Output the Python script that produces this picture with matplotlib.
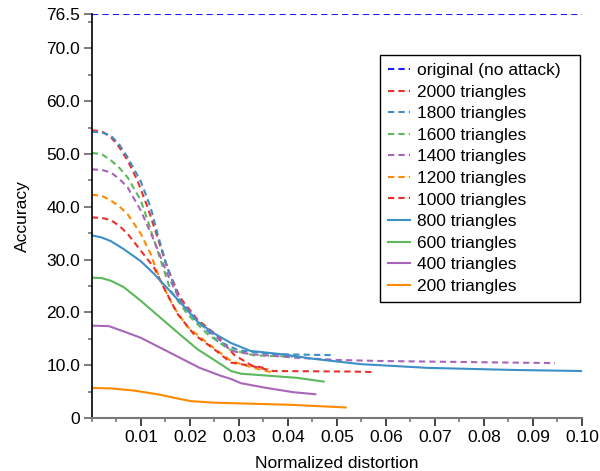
import matplotlib
matplotlib.use('Agg')
import matplotlib.pyplot as plt
from matplotlib.ticker import MultipleLocator, FixedLocator

plt.rcParams['font.family'] = ['Liberation Sans', 'DejaVu Sans']

# Accuracy vs. normalized distortion for each attack budget
original_x = [0.0, 0.10]
original_y = [76.5, 76.5]

t2000_x = [0, 0.002, 0.0039, 0.0056, 0.0073, 0.0093, 0.0114, 0.0134, 0.0154, 0.018, 0.0216, 0.0256, 0.029, 0.0325, 0.036]
t2000_y = [54.5, 54.3, 53.2, 51.3, 48.8, 45.0, 39.9, 34.2, 28.5, 22.8, 18.6, 15.6, 12.0, 10.0, 9.3]

t1800_x = [0, 0.002, 0.0039, 0.0056, 0.0073, 0.0100, 0.0120, 0.0134, 0.0154, 0.018, 0.0216, 0.0256, 0.030, 0.037, 0.0496]
t1800_y = [54.2, 54.1, 53.5, 51.8, 49.4, 44.8, 39.9, 34.9, 28.5, 22.2, 18.4, 14.6, 12.8, 12.1, 11.9]

t1600_x = [0, 0.002, 0.0039, 0.0056, 0.0073, 0.0100, 0.0114, 0.0134, 0.0161, 0.0195, 0.0236, 0.028, 0.033, 0.041]
t1600_y = [50.2, 50.0, 48.8, 47.4, 45.6, 41.2, 37.4, 31.7, 24.1, 19.7, 15.9, 13.0, 11.9, 11.6]

t1400_x = [0, 0.002, 0.0039, 0.0056, 0.0073, 0.0100, 0.0127, 0.0154, 0.018, 0.0222, 0.0256, 0.0284, 0.0324, 0.042, 0.050, 0.059, 0.0945]
t1400_y = [47.1, 47.0, 46.5, 45.3, 43.7, 39.3, 33.6, 27.3, 22.2, 17.8, 15.2, 12.7, 12.1, 11.4, 11.0, 10.8, 10.4]

t1200_x = [0, 0.002, 0.0039, 0.0056, 0.0073, 0.0100, 0.0120, 0.0140, 0.0168, 0.0195, 0.0236, 0.0284, 0.033, 0.0373]
t1200_y = [42.3, 42.1, 41.2, 40.1, 38.6, 34.9, 31.1, 26.0, 20.9, 17.3, 14.2, 10.8, 9.5, 8.5]

t1000_x = [0, 0.002, 0.0039, 0.0056, 0.0073, 0.0100, 0.0127, 0.0147, 0.0175, 0.0208, 0.025, 0.0284, 0.0324, 0.037, 0.053, 0.0575]
t1000_y = [38.0, 37.9, 37.5, 36.4, 34.9, 31.7, 28.5, 24.7, 19.7, 15.9, 13.0, 10.5, 9.9, 8.9, 8.8, 8.7]

t800_x = [0, 0.002, 0.0039, 0.0065, 0.0100, 0.0127, 0.0161, 0.0195, 0.0216, 0.025, 0.0284, 0.0324, 0.0386, 0.0453, 0.0549, 0.0685, 0.0861, 0.10]
t800_y = [34.6, 34.2, 33.5, 32.0, 29.7, 27.3, 23.9, 20.4, 18.2, 16.0, 14.2, 12.7, 12.1, 11.2, 10.2, 9.5, 9.1, 8.9]

t600_x = [0, 0.002, 0.0039, 0.0065, 0.0100, 0.0140, 0.018, 0.0216, 0.0263, 0.0284, 0.0304, 0.042, 0.0473]
t600_y = [26.6, 26.5, 26.0, 24.8, 22.2, 19.0, 15.8, 13.0, 10.2, 8.9, 8.4, 7.6, 6.9]

t400_x = [0, 0.0035, 0.0065, 0.0100, 0.0140, 0.018, 0.022, 0.0263, 0.0284, 0.0304, 0.035, 0.041, 0.0456]
t400_y = [17.5, 17.4, 16.4, 15.2, 13.3, 11.4, 9.5, 8.0, 7.4, 6.6, 5.8, 4.9, 4.5]

t200_x = [0, 0.004, 0.0086, 0.0134, 0.018, 0.0202, 0.025, 0.0406, 0.0518]
t200_y = [5.7, 5.6, 5.2, 4.5, 3.6, 3.2, 2.9, 2.5, 2.0]

red = '#e8312b'
blue = '#3d8fc8'
green = '#5cb85a'
purple = '#a866b8'
orange = '#ff8a00'

dashes = (3.0, 2.0)

fig = plt.figure(figsize=(6.0, 4.71), dpi=100)
ax = fig.add_axes([0.153, 0.1125, 0.817, 0.8575])

lw = 1.5
ax.plot(original_x, original_y, color='#1a1aff', lw=lw, dashes=dashes, label='original (no attack)')
ax.plot(t2000_x, t2000_y, color=red, lw=lw, dashes=dashes, label='2000 triangles')
ax.plot(t1800_x, t1800_y, color=blue, lw=lw, dashes=dashes, label='1800 triangles')
ax.plot(t1600_x, t1600_y, color=green, lw=lw, dashes=dashes, label='1600 triangles')
ax.plot(t1400_x, t1400_y, color=purple, lw=lw, dashes=dashes, label='1400 triangles')
ax.plot(t1200_x, t1200_y, color=orange, lw=lw, dashes=dashes, label='1200 triangles')
ax.plot(t1000_x, t1000_y, color=red, lw=lw, dashes=dashes, label='1000 triangles')
ax.plot(t800_x, t800_y, color=blue, lw=lw, label='800 triangles')
ax.plot(t600_x, t600_y, color=green, lw=lw, label='600 triangles')
ax.plot(t400_x, t400_y, color=purple, lw=lw, label='400 triangles')
ax.plot(t200_x, t200_y, color=orange, lw=lw, label='200 triangles')

ax.set_xlim(0, 0.10)
ax.set_ylim(0, 76.5)

ax.spines['top'].set_visible(False)
ax.spines['right'].set_visible(False)
ax.spines['left'].set_color('black')
ax.spines['bottom'].set_color('#777777')
ax.spines['left'].set_linewidth(1.2)
ax.spines['bottom'].set_linewidth(1.5)

yticks = [0, 10, 20, 30, 40, 50, 60, 70, 76.5]
ylabels = ['0', '10.0', '20.0', '30.0', '40.0', '50.0', '60.0', '70.0', '76.5']
ax.yaxis.set_major_locator(FixedLocator(yticks))
ax.set_yticklabels(ylabels)
ax.yaxis.set_minor_locator(MultipleLocator(5))

xticks = [0.01, 0.02, 0.03, 0.04, 0.05, 0.06, 0.07, 0.08, 0.09, 0.10]
ax.xaxis.set_major_locator(FixedLocator(xticks))
ax.set_xticklabels(['%.2f' % v for v in xticks])
ax.xaxis.set_minor_locator(MultipleLocator(0.005))

ax.tick_params(axis='both', which='major', direction='out', length=5.8, width=1.2,
               labelsize=12.5, color='#666666', pad=2.5)
ax.tick_params(axis='both', which='minor', direction='out', length=3, width=1.2, color='#777777')
ax.tick_params(axis='x', which='major', color='#222222', pad=3)

ax.set_xlabel('Normalized distortion', fontsize=12.5, labelpad=7.5)
ax.set_ylabel('Accuracy', fontsize=12.5, labelpad=11.5)

leg = ax.legend(loc='upper left', bbox_to_anchor=(0.5878, 0.0, 0.408, 0.8985),
                mode='expand', fontsize=12.5,
                frameon=True, fancybox=False, edgecolor='black', framealpha=1,
                handlelength=1.3, handletextpad=0.4, labelspacing=0.37,
                borderpad=0.45, borderaxespad=0)
leg.get_frame().set_linewidth(1.0)

fig.savefig('out.png', dpi=100)
